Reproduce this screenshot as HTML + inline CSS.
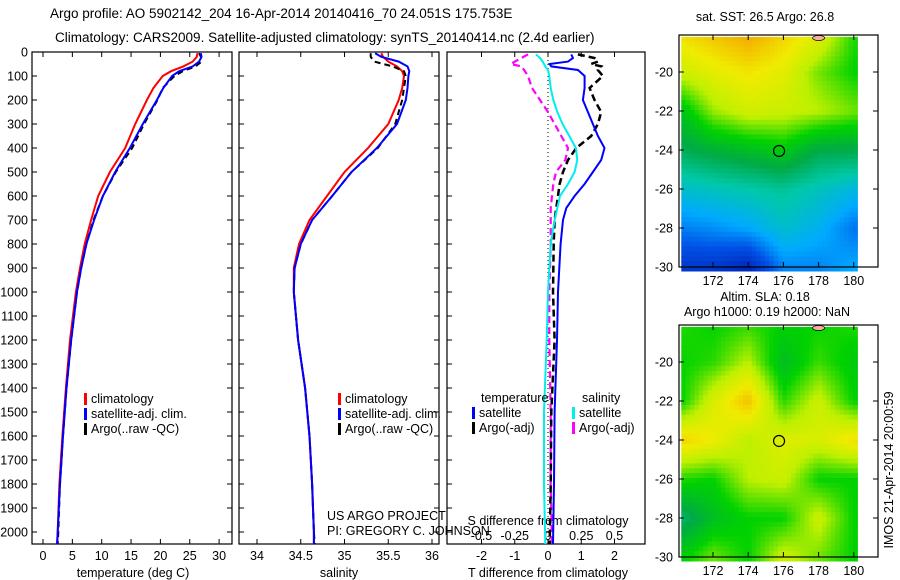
<!DOCTYPE html>
<html><head><meta charset="utf-8"><style>
body{margin:0;background:#fff}
svg{display:block;font-family:"Liberation Sans",sans-serif}
text{font-size:12.5px;fill:#000}
</style></head><body>
<svg id="s" width="900" height="580" viewBox="0 0 900 580" xmlns="http://www.w3.org/2000/svg">
<text x="50" y="18" style="font-size:13.5px">Argo profile: AO 5902142_204 16-Apr-2014 20140416_70 24.051S 175.753E</text>
<text x="55" y="42" style="font-size:13.5px">Climatology: CARS2009. Satellite-adjusted climatology: synTS_20140414.nc (2.4d earlier)</text>
<g id="g"></g>
</svg>
<script>
// ---- data ----
const depthTicks=[0,100,200,300,400,500,600,700,800,900,1000,1100,1200,1300,1400,1500,1600,1700,1800,1900,2000];
const tTicks=[0,5,10,15,20,25,30];
const sTicks=[34,34.5,35,35.5,36];
const dTTicks=[-2,-1,0,1,2];
const dSTicks=[-0.5,-0.25,0,0.25,0.5];
const dSTickLabels=["-0.5","-0.25","0","0.25","0.5"];
const profDepth=[5,20,40,60,80,100,150,200,300,400,500,600,700,800,900,1000,1200,1400,1600,1800,2000,2050];
const tClim=[26.3,26.2,25.5,23.9,21.8,20.4,18.8,17.7,15.7,14.0,11.4,9.4,8.2,7.1,6.3,5.6,4.6,3.9,3.3,2.8,2.5,2.4];
const tSat=[26.9,27.0,26.6,25.5,23.2,22.0,20.5,19.4,17.0,14.8,12.3,10.2,8.7,7.4,6.5,5.8,4.8,4.0,3.4,2.9,2.5,2.4];
const tArgo=[26.6,26.9,27.0,26.0,23.8,22.4,20.4,19.5,17.2,15.2,12.4,10.2,8.6,7.4,6.5,5.8,4.8,4.0,3.4,2.9,2.6,2.5];
const sClim=[35.42,35.44,35.5,35.6,35.66,35.68,35.66,35.62,35.5,35.27,35.0,34.8,34.6,34.48,34.42,34.42,34.47,34.55,34.6,34.63,34.65,34.65];
const sSat=[35.35,35.42,35.62,35.72,35.74,35.73,35.72,35.7,35.6,35.37,35.08,34.86,34.63,34.5,34.43,34.42,34.47,34.55,34.6,34.63,34.65,34.65];
const sArgo=[35.3,35.3,35.34,35.55,35.68,35.7,35.68,35.66,35.58,35.38,35.08,34.86,34.63,34.5,34.43,34.42,34.47,34.55,34.6,34.63,34.65,34.66];
const diffDepth=[10,25,40,50,60,75,100,150,200,250,300,350,400,450,500,550,600,650,700,800,1000,1200,1500,1800,2050];
const dTSat=[0.7,0.75,0.6,0.05,0.1,0.9,1.1,1.1,1.05,1.2,1.35,1.5,1.7,1.6,1.35,1.1,0.8,0.55,0.45,0.38,0.3,0.27,0.2,0.18,0.15];
const dTArgo=[0.9,1.4,1.5,1.3,1.6,1.5,1.65,1.25,1.4,1.6,1.5,1.3,0.85,0.6,0.45,0.35,0.3,0.25,0.2,0.17,0.15,0.2,0.1,0.08,0.05];
const dSSat=[-0.09,-0.06,-0.04,-0.03,-0.02,0,0.01,0.02,0.04,0.07,0.11,0.16,0.21,0.22,0.2,0.15,0.09,0.07,0.05,0.02,0,-0.01,-0.03,-0.03,-0.02];
const dSArgo=[-0.15,-0.2,-0.25,-0.28,-0.2,-0.18,-0.15,-0.12,-0.06,0,0.05,0.1,0.15,0.13,0.06,0.04,0.03,0.02,0.02,0.02,0.01,0.01,0.02,0.02,0.03];
const mapLons=[170,172,174,176,178,180];
const mapLats=[-18,-20,-22,-24,-26,-28,-30];
const sstGrid=[[0.8,0.84,0.88,0.82,0.76,0.62],[0.72,0.76,0.79,0.76,0.66,0.6],[0.55,0.68,0.73,0.72,0.7,0.66],[0.48,0.52,0.55,0.58,0.5,0.5],[0.36,0.38,0.4,0.42,0.38,0.34],[0.25,0.27,0.3,0.36,0.32,0.24],[0.14,0.14,0.1,0.26,0.26,0.3]];
const slaGrid=[[0.62,0.6,0.62,0.6,0.6,0.62],[0.6,0.62,0.7,0.55,0.63,0.58],[0.58,0.74,0.84,0.62,0.72,0.6],[0.82,0.78,0.7,0.75,0.74,0.8],[0.62,0.6,0.7,0.72,0.6,0.6],[0.45,0.55,0.6,0.6,0.72,0.6],[0.58,0.66,0.6,0.72,0.66,0.6]];
const argoLon=175.753, argoLat=-24.051;

const NS="http://www.w3.org/2000/svg";
const G=document.getElementById('g');
function el(t,a,p){const e=document.createElementNS(NS,t);for(const k in a)e.setAttribute(k,a[k]);(p||G).appendChild(e);return e;}
function txt(x,y,s,anchor,p,sz){const e=el('text',{x:x,y:y,'text-anchor':anchor||'start'},p);if(sz)e.style.fontSize=sz+'px';e.textContent=s;return e;}
const yD=d=>52+d*0.24;
const PB=544;

function frame(x0,x1,name){
  const g=el('g',{});
  
  
  el('rect',{x:x0,y:52,width:x1-x0,height:PB-52,fill:'none',stroke:'#000','stroke-width':1.2},g);
  return g;
}
function line(g,xs,ys,col,w,dash,name){
  const pts=xs.map((x,i)=>x.toFixed(1)+','+ys[i].toFixed(1)).join(' ');
  const p=el('polyline',{points:pts,fill:'none',stroke:col,'stroke-width':w},g);
  if(dash)p.setAttribute('stroke-dasharray',dash);
  
  
}
// panel 1
const xT=t=>43+t*5.87;
let g1=frame(32,232,'temperature-panel');
depthTicks.forEach(d=>{el('line',{x1:32,x2:37,y1:yD(d),y2:yD(d),stroke:'#000'},g1);el('line',{x1:227,x2:232,y1:yD(d),y2:yD(d),stroke:'#000'},g1);txt(28,yD(d)+4.5,String(d),'end',g1);});
tTicks.forEach(t=>{el('line',{x1:xT(t),x2:xT(t),y1:PB,y2:PB-5,stroke:'#000'},g1);el('line',{x1:xT(t),x2:xT(t),y1:52,y2:57,stroke:'#000'},g1);txt(xT(t),560,String(t),'middle',g1);});
txt(133,577,'temperature (deg C)','middle',g1);
line(g1,tClim.map(xT),profDepth.map(yD),'#f00',2,null,'temp-climatology-line');
line(g1,tArgo.map(xT),profDepth.map(yD),'#000',2,'6,4','temp-argo-line');
line(g1,tSat.map(xT),profDepth.map(yD),'#00f',2,null,'temp-satellite-line');
function legend(g,x,y,items){items.forEach((it,i)=>{el('rect',{x:x,y:y+i*15-10,width:3,height:12,fill:it[0]},g);txt(x+7,y+i*15,it[1],'start',g);});}
legend(g1,84,403,[['#f00','climatology'],['#00f','satellite-adj. clim.'],['#000','Argo(..raw -QC)']]);
// panel 2
const xS=s=>257+(s-34)*87.5;
let g2=frame(239,439,'salinity-panel');
depthTicks.forEach(d=>{el('line',{x1:239,x2:244,y1:yD(d),y2:yD(d),stroke:'#000'},g2);el('line',{x1:434,x2:439,y1:yD(d),y2:yD(d),stroke:'#000'},g2);});
sTicks.forEach(t=>{el('line',{x1:xS(t),x2:xS(t),y1:PB,y2:PB-5,stroke:'#000'},g2);el('line',{x1:xS(t),x2:xS(t),y1:52,y2:57,stroke:'#000'},g2);txt(xS(t),560,String(t),'middle',g2);});
txt(339,577,'salinity','middle',g2);
line(g2,sClim.map(xS),profDepth.map(yD),'#f00',2,null,'sal-climatology-line');
line(g2,sArgo.map(xS),profDepth.map(yD),'#000',2,'6,4','sal-argo-line');
line(g2,sSat.map(xS),profDepth.map(yD),'#00f',2,null,'sal-satellite-line');
legend(g2,338,403,[['#f00','climatology'],['#00f','satellite-adj. clim.'],['#000','Argo(..raw -QC)']]);
txt(327,520,'US ARGO PROJECT','start',g2);
txt(327,535,'PI: GREGORY C. JOHNSON','start',g2);
// panel 3
const xDT=v=>548+v*33.25, xDS=v=>548+v*133;
let g3=frame(447,645,'difference-panel');
depthTicks.forEach(d=>{el('line',{x1:447,x2:452,y1:yD(d),y2:yD(d),stroke:'#000'},g3);});
dTTicks.forEach(t=>{el('line',{x1:xDT(t),x2:xDT(t),y1:PB,y2:PB-5,stroke:'#000'},g3);el('line',{x1:xDT(t),x2:xDT(t),y1:52,y2:57,stroke:'#000'},g3);txt(xDT(t),560,String(t),'middle',g3);});
dSTicks.forEach((t,i)=>{txt(xDS(t),540,dSTickLabels[i],'middle',g3);});
txt(548,525,'S difference from climatology','middle',g3);
txt(548,577,'T difference from climatology','middle',g3);
el('line',{x1:548,x2:548,y1:52,y2:PB,stroke:'#000','stroke-dasharray':'1,3'},g3);
line(g3,dSArgo.map(xDS),diffDepth.map(yD),'#f0f',2.2,'7,4','sdiff-argo-line');
line(g3,dTArgo.map(xDT),diffDepth.map(yD),'#000',2.5,'7,4','tdiff-argo-line');
line(g3,dTSat.map(xDT),diffDepth.map(yD),'#00f',2,null,'tdiff-satellite-line');
line(g3,dSSat.map(xDS),diffDepth.map(yD),'#0ee',2,null,'sdiff-satellite-line');
txt(481,402,'temperature','start',g3);txt(582,402,'salinity','start',g3);
legend(g3,472,417,[['#00f','satellite'],['#000','Argo(-adj)']]);
legend(g3,572,417,[['#0ee','satellite'],['#f0f','Argo(-adj)']]);
// maps
const cstops=[[0,[0,0,140]],[0.2,[0,80,230]],[0.3,[0,170,255]],[0.4,[0,200,170]],[0.5,[0,170,70]],[0.6,[0,210,0]],[0.7,[190,240,0]],[0.78,[240,235,0]],[0.88,[245,165,0]],[1,[230,100,0]]];
function cmap(v){v=Math.max(0,Math.min(1,v));for(let i=1;i<cstops.length;i++){if(v<=cstops[i][0]){const a=cstops[i-1],b=cstops[i],f=(v-a[0])/(b[0]-a[0]);return 'rgb('+a[1].map((c,k)=>Math.round(c+(b[1][k]-c)*f)).join(',')+')';}}return 'rgb(230,100,0)';}
function sample(grid,lon,lat){let fx=(lon-170)/2,fy=(-18-lat)/2;fx=Math.max(0,Math.min(4.999,fx));fy=Math.max(0,Math.min(5.999,fy));const i=Math.floor(fx),j=Math.floor(fy),u=fx-i,w=fy-j;return grid[j][i]*(1-u)*(1-w)+grid[j][i+1]*u*(1-w)+grid[j+1][i]*(1-u)*w+grid[j+1][i+1]*u*w;}
function drawMap(y0,grid,name,step){
  const g=el('g',{});
  
  
  const mx=lon=>713+(lon-172)*17.6, my=lat=>y0+37+(-20-lat)*19.5;
  for(let lat=-18.2;lat>-30;lat-=step){for(let lon=170.2;lon<180;lon+=step){
    el('rect',{x:mx(lon).toFixed(1),y:my(lat).toFixed(1),width:(step*17.6+0.6).toFixed(1),height:(step*19.5+0.6).toFixed(1),fill:cmap(sample(grid,lon+step/2,lat-step/2))},g);}}
  el('rect',{x:679,y:y0,width:199,height:232,fill:'none',stroke:'#000','stroke-width':1.2},g);
  [-20,-22,-24,-26,-28,-30].forEach(l=>{el('line',{x1:679,x2:684,y1:my(l),y2:my(l),stroke:'#000'},g);el('line',{x1:873,x2:878,y1:my(l),y2:my(l),stroke:'#000'},g);txt(673,my(l)+4.5,String(l),'end',g);});
  [172,174,176,178,180].forEach(l=>{el('line',{x1:mx(l),x2:mx(l),y1:y0+232,y2:y0+227,stroke:'#000'},g);el('line',{x1:mx(l),x2:mx(l),y1:y0,y2:y0+5,stroke:'#000'},g);txt(mx(l),y0+250,String(l),'middle',g);});
  el('ellipse',{cx:mx(178),cy:y0+3,rx:6,ry:2.5,fill:'#f9b0a0',stroke:'#000','stroke-width':0.7},g);
  const c=el('circle',{cx:mx(argoLon),cy:my(argoLat),r:5.5,fill:'none',stroke:'#000','stroke-width':1.2},g);
  
  
}
drawMap(35,sstGrid,'sst-map',0.25);
drawMap(325,slaGrid,'sla-map',0.25);
txt(765,21,'sat. SST: 26.5 Argo: 26.8','middle');
txt(765,301,'Altim. SLA: 0.18','middle');
txt(767,316,'Argo h1000: 0.19 h2000: NaN','middle');
const r=txt(0,0,'IMOS 21-Apr-2014 20:00:59','middle');
r.setAttribute('transform','translate(893,470) rotate(-90)');


</script>
</body></html>
